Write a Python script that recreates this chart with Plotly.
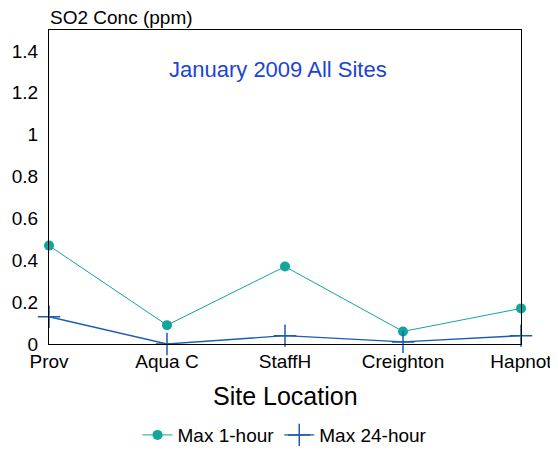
import plotly.graph_objects as go

sites = ["Prov", "Aqua C", "StaffH", "Creighton", "Hapnot"]
max_1hr = [0.47, 0.09, 0.37, 0.06, 0.17]
max_24hr = [0.13, 0.0, 0.04, 0.01, 0.04]
y_ticks = [0, 0.2, 0.4, 0.6, 0.8, 1, 1.2, 1.4]
y_tick_text = ["0", "0.2", "0.4", "0.6", "0.8", "1", "1.2", "1.4"]

teal = "#13a59b"
blue = "#1b5cae"
font = "Liberation Sans, Arial, sans-serif"

fig = go.Figure()
fig.add_trace(go.Scatter(
    x=sites, y=max_1hr, name="Max 1-hour", mode="lines+markers",
    line=dict(color=teal, width=1),
    marker=dict(symbol="circle", size=10, color=teal),
    cliponaxis=False))
fig.add_trace(go.Scatter(
    x=sites, y=max_24hr, name="Max 24-hour", mode="lines+markers",
    line=dict(color=blue, width=1.4),
    marker=dict(symbol="cross-thin", size=16, line=dict(color=blue, width=1.5)),
    cliponaxis=False))

# page body has an 8px margin, so the figure is drawn at (8, 8)
fig.update_layout(
    width=550, height=443,
    margin=dict(l=41, r=37, t=22, b=107, autoexpand=False),
    paper_bgcolor="white", plot_bgcolor="white",
    font=dict(family=font, size=19, color="black"),
    showlegend=True,
    legend=dict(orientation="h", x=0.5, xanchor="center",
                yref="container", y=0.036, yanchor="middle",
                font=dict(size=19), itemwidth=30, tracegroupgap=0,
                bgcolor="rgba(0,0,0,0)"),
    xaxis=dict(
        type="category", range=[0, 4], showgrid=False, zeroline=False,
        showline=True, linecolor="black", linewidth=1, mirror=True,
        ticks="", tickfont=dict(size=19), automargin=False),
    yaxis=dict(
        range=[0, 1.5], tickvals=y_ticks, ticktext=y_tick_text,
        showgrid=False, zeroline=False, showline=True, linecolor="black",
        linewidth=1, mirror=True, ticks="", tickfont=dict(size=19),
        automargin=False, ticklabelstandoff=6),
    annotations=[
        dict(text="SO2 Conc (ppm)", xref="paper", yref="paper", x=0, y=1.0,
             xanchor="left", yanchor="bottom", yshift=1, showarrow=False,
             borderpad=0, font=dict(size=19, color="black")),
        dict(text="January 2009 All Sites", xref="paper", yref="paper",
             x=0.485, y=0.873, xanchor="center", yanchor="middle", showarrow=False,
             font=dict(size=22, color="#1c44d4")),
        dict(text="Site Location", xref="paper", yref="paper",
             x=0.5, y=-0.166, xanchor="center", yanchor="middle", showarrow=False,
             font=dict(size=25, color="black")),
    ],
)

fig.write_html("out.html")
